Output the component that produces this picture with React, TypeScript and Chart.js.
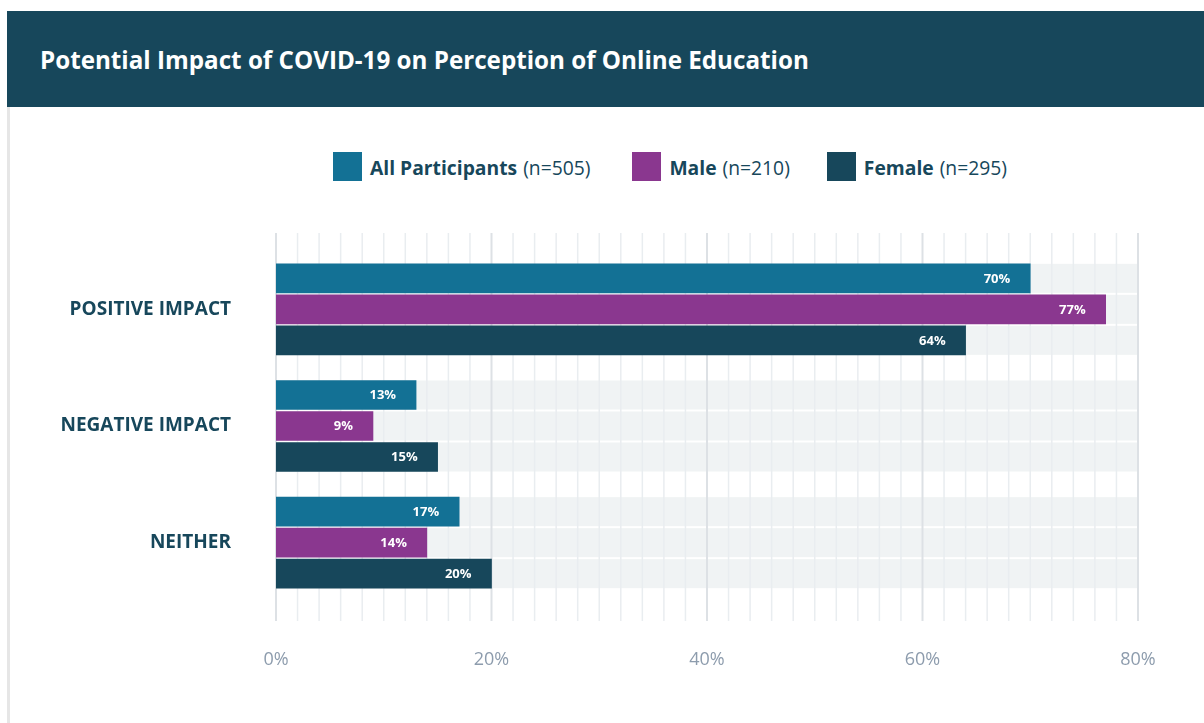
import React, { useEffect, useRef } from "react";
import { Chart, registerables } from "chart.js";

Chart.register(...registerables);

const categories = ["POSITIVE IMPACT", "NEGATIVE IMPACT", "NEITHER"];
const seriesNames = ["All Participants", "Male", "Female"];
const seriesCounts = ["(n=505)", "(n=210)", "(n=295)"];
const allParticipants = [70, 13, 17];
const male = [77, 9, 14];
const female = [64, 15, 20];
const seriesColors = ["#137195", "#8a378f", "#17475b"];
const xTicks = [0, 20, 40, 60, 80];

const FONT = "'Open Sans', 'Noto Sans', sans-serif";

const trackAndGridPlugin = {
  id: "trackAndGrid",
  beforeDatasetsDraw(chart: any) {
    const { ctx, chartArea } = chart;
    const xs = chart.scales.x;
    ctx.save();
    // tracks
    ctx.fillStyle = "#f0f3f4";
    chart.data.datasets.forEach((_: any, i: number) => {
      const meta = chart.getDatasetMeta(i);
      meta.data.forEach((el: any) => {
        const h = el.height;
        ctx.fillRect(xs.left, el.y - h / 2, xs.right - xs.left, h);
      });
    });
    // grid
    const top = chartArea.top - 18;
    const bottom = chartArea.bottom + 20;
    for (let v = 0; v <= 80; v += 2) {
      const major = v % 20 === 0;
      const x = xs.getPixelForValue(v);
      ctx.beginPath();
      ctx.strokeStyle = major ? "#dde1e5" : "#e9edf0";
      ctx.lineWidth = major ? 2 : 1.5;
      ctx.moveTo(x, top);
      ctx.lineTo(x, bottom);
      ctx.stroke();
    }
    ctx.restore();
  },
  afterDatasetsDraw(chart: any) {
    const { ctx } = chart;
    ctx.save();
    ctx.font = `bold 13px ${FONT}`;
    ctx.fillStyle = "#ffffff";
    ctx.textAlign = "right";
    ctx.textBaseline = "middle";
    chart.data.datasets.forEach((ds: any, i: number) => {
      const meta = chart.getDatasetMeta(i);
      meta.data.forEach((el: any, j: number) => {
        ctx.fillText(`${ds.data[j]}%`, el.x - 20, el.y + 0.5);
      });
    });
    ctx.restore();
  },
};

export default function App() {
  const canvasRef = useRef<HTMLCanvasElement | null>(null);

  useEffect(() => {
    if (!canvasRef.current) return;
    const seriesData = [allParticipants, male, female];
    const chart = new Chart(canvasRef.current, {
      type: "bar",
      data: {
        labels: categories,
        datasets: seriesNames.map((name, i) => ({
          label: name,
          data: seriesData[i],
          backgroundColor: seriesColors[i],
          barThickness: 31,
          maxBarThickness: 29,
          borderWidth: 0,
        })),
      },
      options: {
        indexAxis: "y",
        responsive: false,
        animation: false,
        layout: { padding: { left: 0, top: 51, right: 66, bottom: 0 } },
        plugins: {
          legend: { display: false },
          tooltip: { enabled: false },
          title: { display: false },
        },
        scales: {
          x: {
            min: 0,
            max: 80,
            afterFit: (s: any) => {
              s.height = 122;
              s.paddingLeft = 0;
              s.paddingRight = 0;
            },
            afterBuildTicks: (s: any) => {
              s.ticks = xTicks.map((v) => ({ value: v }));
            },
            grid: { display: false, drawTicks: false },
            border: { display: false },
            ticks: {
              padding: 48,
              color: "#8d9cad",
              font: { family: FONT, size: 18 },
              callback: (v: any) => `${v}%`,
            },
          },
          y: {
            afterFit: (s: any) => {
              s.width = 266;
              s.paddingTop = 0;
              s.paddingBottom = 0;
            },
            grid: { display: false, drawTicks: false },
            border: { display: false },
            ticks: {
              padding: 45,
              color: "#17475b",
              font: { family: FONT, size: 19, weight: "bold" },
            },
          },
        },
      },
      plugins: [trackAndGridPlugin],
    });
    return () => chart.destroy();
  }, []);

  const itemGaps = [42, 37, 0];

  return (
    <div
      style={{
        position: "absolute",
        left: 0,
        top: 0,
        width: 1204,
        height: 723,
        background: "#ffffff",
        overflow: "hidden",
        fontFamily: FONT,
      }}
    >
      <div
        style={{
          position: "absolute",
          left: 7,
          top: 11,
          width: 1197,
          height: 96,
          background: "#17475b",
          display: "flex",
          alignItems: "center",
          paddingLeft: 33,
          boxSizing: "border-box",
          color: "#ffffff",
          fontWeight: 700,
          fontSize: 24.2,
        }}
      >
        Potential Impact of COVID-19 on Perception of Online Education
      </div>
      <div
        style={{
          position: "absolute",
          left: 7,
          top: 107,
          width: 3,
          height: 616,
          background: "#e6e6e6",
        }}
      />
      <div
        style={{
          position: "absolute",
          left: 333,
          top: 152,
          height: 29,
          display: "flex",
          alignItems: "center",
          color: "#17475b",
          fontSize: 19.3,
          whiteSpace: "nowrap",
        }}
      >
        {seriesNames.map((name, i) => (
          <div
            key={name}
            style={{ display: "flex", alignItems: "center", marginRight: itemGaps[i] }}
          >
            <div
              style={{
                width: 29,
                height: 29,
                background: seriesColors[i],
                marginRight: 8,
              }}
            />
            <span style={{ fontWeight: 700, position: "relative", top: 1 }}>{name}</span>
            <span style={{ marginLeft: 6, position: "relative", top: 1 }}>{seriesCounts[i]}</span>
          </div>
        ))}
      </div>
      <canvas
        ref={canvasRef}
        width={1194}
        height={523}
        style={{
          position: "absolute",
          left: 10,
          top: 200,
          width: 1194,
          height: 523,
        }}
      />
    </div>
  );
}
